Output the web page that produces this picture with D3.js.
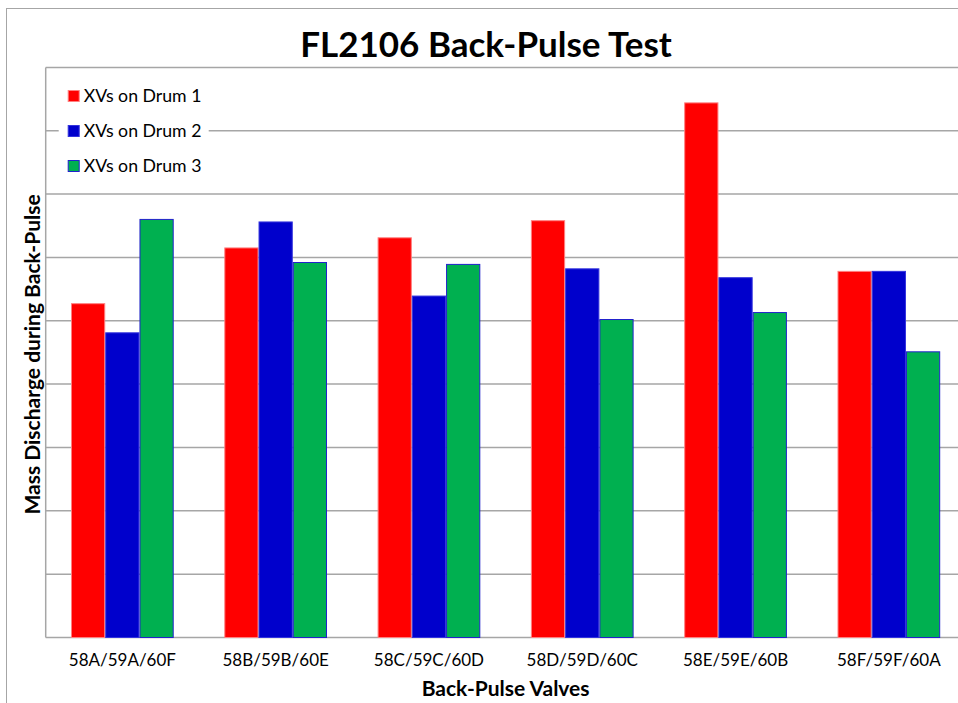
<!DOCTYPE html>
<html>
<head>
<meta charset="utf-8">
<script src="https://cdn.jsdelivr.net/npm/d3@7"></script>
<style>
  body { margin: 0; background: #fff; }
  text { font-family: Lato, "Open Sans", sans-serif; }
</style>
</head>
<body>
<div id="chart"></div>
<script>
// data
var categories = ["58A/59A/60F", "58B/59B/60E", "58C/59C/60D", "58D/59D/60C", "58E/59E/60B", "58F/59F/60A"];
var seriesNames = ["XVs on Drum 1", "XVs on Drum 2", "XVs on Drum 3"];
var drum1 = [5.27, 6.15, 6.31, 6.58, 8.44, 5.78];
var drum2 = [4.81, 6.56, 5.39, 5.82, 5.68, 5.78];
var drum3 = [6.60, 5.92, 5.89, 5.02, 5.13, 4.51];
var yTicks = [0, 1, 2, 3, 4, 5, 6, 7, 8, 9];

var fills = ["#ff0000", "#0000cc", "#00b050"];
var strokes = ["#ff8080", "#3333dd", "#2222cc"];

var W = 958, H = 703;
var margin = {top: 67.4, right: -7.5, bottom: 65.5, left: 45.7},
    width = W - margin.left - margin.right,
    height = H - margin.top - margin.bottom;

var svg = d3.select("#chart")
  .append("svg")
    .attr("width", W)
    .attr("height", H);

// outer frame
svg.append("rect")
  .attr("x", 6.5).attr("y", 8.5)
  .attr("width", W).attr("height", H)
  .attr("fill", "none")
  .attr("stroke", "#a6a6a6")
  .attr("stroke-width", 1);

var g = svg.append("g")
  .attr("transform", "translate(" + margin.left + "," + margin.top + ")");

var x0 = d3.scaleBand()
  .domain(categories)
  .range([0, width])
  .paddingInner(0.33)
  .paddingOuter(0.165);

var x1 = d3.scaleBand()
  .domain(d3.range(seriesNames.length))
  .range([0, x0.bandwidth()]);

var y = d3.scaleLinear()
  .domain([0, 9])
  .range([height, 0]);

// gridlines
g.append("g")
  .selectAll("line")
  .data(yTicks)
  .enter()
  .append("line")
    .attr("x1", 0)
    .attr("x2", width)
    .attr("y1", function(d) { return y(d); })
    .attr("y2", function(d) { return y(d); })
    .attr("stroke", "#a6a6a6")
    .attr("stroke-width", 1.5);

// plot left border
g.append("line")
  .attr("x1", 0).attr("x2", 0)
  .attr("y1", 0).attr("y2", height)
  .attr("stroke", "#a6a6a6")
  .attr("stroke-width", 1.5);

var series = [drum1, drum2, drum3];
var rows = categories.map(function(c, i) {
  return series.map(function(s, k) { return {cat: c, k: k, v: s[i]}; });
});

g.append("g")
  .selectAll("g")
  .data(rows)
  .enter()
  .append("g")
    .attr("transform", function(d, i) { return "translate(" + x0(categories[i]) + ",0)"; })
  .selectAll("rect")
  .data(function(d) { return d; })
  .enter()
  .append("rect")
    .attr("x", function(d) { return x1(d.k) + 0.5; })
    .attr("width", x1.bandwidth() - 1)
    .attr("y", function(d) { return y(d.v); })
    .attr("height", function(d) { return height - y(d.v); })
    .attr("fill", function(d) { return fills[d.k]; })
    .attr("stroke", function(d) { return strokes[d.k]; })
    .attr("stroke-width", 1);

// x axis labels
g.append("g")
  .attr("transform", "translate(0," + height + ")")
  .call(d3.axisBottom(x0).tickSize(0).tickPadding(16))
  .call(function(a) { a.select(".domain").remove(); })
  .selectAll("text")
    .style("font-family", "Lato, sans-serif")
    .style("font-size", "17px")
    .attr("fill", "#000");

// legend
var legend = g.append("g").attr("transform", "translate(13,0)");
legend.append("rect")
  .attr("x", 0).attr("y", 55)
  .attr("width", 150).attr("height", 18)
  .attr("fill", "#fff");
var li = legend.selectAll("g.item")
  .data(seriesNames)
  .enter()
  .append("g")
    .attr("class", "item")
    .attr("transform", function(d, i) { return "translate(0," + (28.6 + i * 35) + ")"; });
li.append("rect")
  .attr("x", 9.5).attr("y", -5.5)
  .attr("width", 11).attr("height", 11)
  .attr("fill", function(d, i) { return fills[i]; })
  .attr("stroke", function(d, i) { return strokes[i]; });
li.append("text")
  .attr("x", 25)
  .attr("dy", "0.36em")
  .style("font-size", "17.7px")
  .text(function(d) { return d; });

// title
svg.append("text")
  .attr("x", 486)
  .attr("y", 57)
  .attr("text-anchor", "middle")
  .style("font-size", "35px")
  .style("font-weight", "bold")
  .text("FL2106 Back-Pulse Test");

// axis titles
svg.append("text")
  .attr("x", margin.left + width / 2)
  .attr("y", 696)
  .attr("text-anchor", "middle")
  .style("font-size", "21px")
  .style("font-weight", "bold")
  .text("Back-Pulse Valves");

svg.append("text")
  .attr("transform", "translate(40," + (margin.top + height / 2 + 2) + ") rotate(-90)")
  .attr("text-anchor", "middle")
  .style("font-size", "21px")
  .style("font-weight", "bold")
  .text("Mass Discharge during Back-Pulse");
</script>
</body>
</html>
